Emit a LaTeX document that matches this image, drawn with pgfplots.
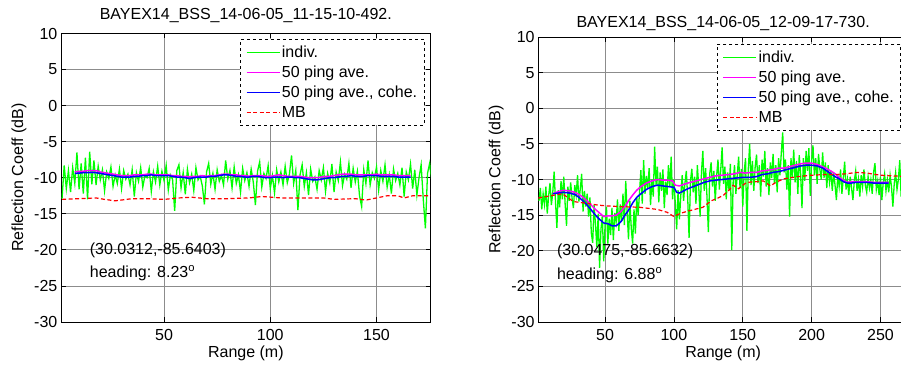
\documentclass[border=0pt]{standalone}
\usepackage{fontspec}
\setmainfont{Liberation Sans}
\usepackage{pgfplots}
\pgfplotsset{compat=1.18}
\definecolor{mgreen}{rgb}{0,1,0}
\definecolor{mmag}{rgb}{1,0,1}
\definecolor{mblue}{rgb}{0,0,1}
\definecolor{mred}{rgb}{1,0,0}
\newcommand\fs{\fontsize{16}{19}\selectfont}
\pgfplotsset{
  mstyle/.style={
    scale only axis,
    anchor=south west,
    ymin=-30, ymax=10,
    ytick={-30,-25,...,10},
    tick align=inside,
    major tick length=5pt,
    grid=major,
    major grid style={black!45, line width=0.8pt},
    axis line style={black, line width=0.9pt},
    every tick/.style={black, line width=0.8pt},
    /pgf/number format/assume math mode=true,
    tick label style={font=\fs},
    xticklabel style={anchor=center, yshift=-13pt, inner sep=0pt},
    yticklabel style={anchor=east, xshift=-3.5pt, inner sep=0pt},
    xlabel={Range (m)},
    ylabel={Reflection Coeff (dB)},
    xlabel style={font=\fs, at={(axis description cs:0.5,0)}, anchor=center, yshift=-31pt},
    ylabel style={font=\fs, at={(axis description cs:-0.1136,0.5)}, anchor=center},
    legend cell align=left,
    legend image code/.code={\draw[##1] (0pt,0pt) -- (33pt,0pt);},
    legend style={font=\fs, draw=black, dashed, line width=0.8pt, fill=white,
      inner xsep=5.5pt, inner ysep=5pt, row sep=4pt,
      nodes={inner sep=1.5pt, solid}},
  },
  gline/.style={color=mgreen, line width=1.3pt, solid},
  mline/.style={color=mmag, line width=1.5pt, solid},
  bline/.style={color=mblue, line width=1.5pt, solid},
  rline/.style={color=mred, line width=1.2pt, dash pattern=on 4pt off 2.5pt},
}
\begin{document}
\begin{tikzpicture}
\useasboundingbox (0,0) rectangle (901pt,366pt);
%================ LEFT =================
\begin{axis}[mstyle,
  at={(61pt,44pt)}, width=369.7pt, height=288.5pt,
  xmin=1.5, xmax=175.5, xtick={50,100,150},
  title={BAYEX14\_BSS\_14-06-05\_11-15-10-492.},
  title style={font=\fs, at={(0.5,1)}, anchor=base, yshift=7.5pt},
  legend style={at={(0.4842,1)}, anchor=north west, yshift=-5.5pt},
]
\addplot[gline] table {
2 -12.9
3 -8.3
4 -11.5
5 -9.0
6 -12.0
7 -8.6
8 -10.8
9 -6.5
10 -11.6
11 -8.0
12 -12.2
13 -7.2
14 -13.0
15 -6.4
16 -10.9
17 -7.6
18 -11.0
19 -8.4
20 -10.3
21 -8.9
22 -11.8
23 -9.2
24 -10.1
25 -8.5
26 -11.2
27 -9.6
28 -10.8
29 -8.8
30 -11.5
31 -9.0
32 -10.2
33 -9.5
34 -11.0
35 -8.9
36 -12.6
37 -9.3
38 -10.5
39 -8.6
40 -11.3
41 -9.7
42 -10.0
43 -8.7
44 -11.9
45 -9.2
46 -10.6
47 -8.4
48 -11.0
49 -9.1
50 -10.4
51 -8.3
52 -11.7
53 -9.6
54 -10.2
55 -14.6
56 -9.0
57 -8.2
58 -11.4
59 -9.3
60 -12.3
61 -8.8
62 -10.7
63 -9.5
64 -11.8
65 -8.6
66 -10.3
67 -9.8
68 -11.1
69 -13.7
70 -9.2
71 -8.0
72 -10.9
73 -9.4
74 -11.6
75 -8.9
76 -10.5
77 -9.7
78 -11.0
79 -7.6
80 -10.2
81 -9.0
82 -11.4
83 -8.5
84 -10.8
85 -9.6
86 -12.0
87 -8.7
88 -10.4
89 -9.3
90 -11.2
91 -8.8
92 -10.6
93 -13.8
94 -9.1
95 -7.8
96 -11.3
97 -9.4
98 -10.1
99 -8.3
100 -11.5
101 -9.7
102 -12.1
103 -8.9
104 -10.6
105 -9.2
106 -11.0
107 -8.4
108 -10.7
109 -9.5
110 -6.9
111 -10.8
112 -9.0
113 -14.5
114 -9.6
115 -8.2
116 -11.2
117 -9.3
118 -12.4
119 -8.8
120 -10.5
121 -9.9
122 -11.6
123 -9.0
124 -10.3
125 -8.6
126 -11.9
127 -9.4
128 -10.7
129 -8.1
130 -12.0
131 -9.2
132 -10.4
133 -7.8
134 -11.1
135 -9.5
136 -10.2
137 -8.0
138 -11.4
139 -8.7
140 -10.6
141 -9.1
142 -12.5
143 -14.0
144 -8.9
145 -10.8
146 -7.6
147 -11.0
148 -9.3
149 -10.1
150 -8.5
151 -11.7
152 -9.0
153 -10.5
154 -8.2
155 -11.3
156 -9.6
157 -12.2
158 -8.8
159 -10.4
160 -9.4
161 -11.0
162 -8.6
163 -12.6
164 -9.2
165 -10.3
166 -8.1
167 -11.5
168 -8.9
169 -12.4
170 -10.0
171 -8.2
172 -13.0
173 -17.0
174 -9.4
175 -8.0
176 -10.6
};
\addlegendentry{indiv.}
\addplot[mline] table {
8 -9.2
10 -9.1
12 -9.1
14 -9.0
16 -9.0
18 -9.0
20 -9.2
22 -9.3
24 -9.4
26 -9.5
28 -9.6
30 -9.7
32 -9.7
34 -9.7
36 -9.6
38 -9.6
40 -9.6
42 -9.5
44 -9.5
46 -9.6
48 -9.6
50 -9.6
52 -9.6
54 -9.7
56 -9.7
58 -9.8
60 -9.8
62 -9.9
64 -9.8
66 -9.8
68 -9.7
70 -9.8
72 -9.7
74 -9.7
76 -9.6
78 -9.5
80 -9.5
82 -9.6
84 -9.6
86 -9.7
88 -9.7
90 -9.8
92 -9.7
94 -9.7
96 -9.7
98 -9.8
100 -9.8
102 -9.7
104 -9.6
106 -9.7
108 -9.8
110 -9.8
112 -9.8
114 -9.8
116 -9.9
118 -10.0
120 -10.0
122 -10.0
124 -9.9
126 -9.8
128 -9.8
130 -9.7
132 -9.6
134 -9.5
136 -9.5
138 -9.5
140 -9.6
142 -9.6
144 -9.6
146 -9.6
148 -9.6
150 -9.5
152 -9.6
154 -9.6
156 -9.6
158 -9.6
160 -9.7
162 -9.7
164 -9.7
166 -9.7
};
\addlegendentry{50 ping ave.}
\addplot[bline] table {
8 -9.4
10 -9.35
12 -9.3
14 -9.3
16 -9.25
18 -9.3
20 -9.4
22 -9.5
24 -9.6
26 -9.7
28 -9.8
30 -9.9
32 -9.9
34 -9.9
36 -9.8
38 -9.8
40 -9.7
42 -9.7
44 -9.6
46 -9.7
48 -9.7
50 -9.7
52 -9.7
54 -9.8
56 -9.9
58 -9.9
60 -10.0
62 -10.1
64 -10.0
66 -9.9
68 -9.9
70 -9.9
72 -9.8
74 -9.8
76 -9.7
78 -9.6
80 -9.6
82 -9.7
84 -9.8
86 -9.8
88 -9.9
90 -9.9
92 -9.8
94 -9.8
96 -9.9
98 -10.0
100 -10.0
102 -9.9
104 -9.9
106 -10.0
108 -9.9
110 -9.9
112 -10.0
114 -10.0
116 -10.1
118 -10.2
120 -10.3
122 -10.3
124 -10.2
126 -10.1
128 -10.0
130 -10.0
132 -9.9
134 -9.8
136 -9.8
138 -9.7
140 -9.8
142 -9.8
144 -9.8
146 -9.7
148 -9.7
150 -9.7
152 -9.8
154 -9.8
156 -9.8
158 -9.8
160 -9.9
162 -9.9
164 -9.9
166 -9.9
};
\addlegendentry{50 ping ave., cohe.}
\addplot[rline] table {
2 -13.0
10 -12.9
18 -12.8
22 -13.0
27 -13.2
35 -12.9
42 -12.9
50 -13.0
57 -12.8
63 -12.7
70 -12.9
80 -12.9
90 -12.8
96 -12.6
105 -12.8
115 -12.8
125 -12.8
130 -13.0
140 -12.9
145 -13.1
150 -12.8
155 -12.5
160 -12.5
163 -12.8
167 -12.5
176 -12.5
};
\addlegendentry{MB}
\node[anchor=west, font=\fs, inner sep=0pt] at (axis cs:15,-20) {(30.0312,-85.6403)};
\node[anchor=west, font=\fs, inner sep=0pt] at (axis cs:15,-23.2) {heading: 8.23\textsuperscript{o}};
\end{axis}
%================ RIGHT =================
\begin{axis}[mstyle,
  at={(538.3pt,44pt)}, width=369.7pt, height=285pt,
  xmin=1.5, xmax=270, xtick={50,100,150,200,250},
  title={BAYEX14\_BSS\_14-06-05\_12-09-17-730.},
  title style={font=\fs, at={(0.5,1)}, anchor=base, yshift=3pt},
  legend style={at={(0.4826,1)}, anchor=north west, yshift=-7pt},
]
\addlegendimage{gline}
\addlegendentry{indiv.}
\addlegendimage{mline}
\addlegendentry{50 ping ave.}
\addlegendimage{bline}
\addlegendentry{50 ping ave., cohe.}
\addlegendimage{rline}
\addlegendentry{MB}
\addplot[gline, forget plot] table {
2 -13.0
3 -11.2
4 -14.2
5 -12.0
6 -13.5
7 -11.0
8 -14.8
9 -12.3
10 -10.5
11 -13.6
12 -11.8
13 -8.9
14 -13.2
15 -16.8
16 -11.5
17 -13.9
18 -10.2
19 -12.8
20 -9.6
21 -13.5
22 -16.5
23 -11.0
24 -13.0
25 -10.4
26 -12.6
27 -14.0
28 -10.8
29 -12.2
30 -9.4
31 -13.1
32 -11.3
33 -9.2
34 -14.5
35 -11.6
36 -13.8
37 -12.0
38 -15.2
39 -12.5
40 -17.5
41 -18.9
42 -13.6
43 -16.2
44 -19.5
45 -14.8
46 -22.4
47 -17.0
48 -15.0
49 -21.5
50 -16.3
51 -13.8
52 -19.0
53 -15.5
54 -17.8
55 -14.0
56 -18.5
57 -14.7
58 -16.0
59 -12.8
60 -17.2
61 -13.5
62 -15.8
63 -12.0
64 -16.4
65 -10.2
66 -14.5
67 -18.4
68 -13.0
69 -16.8
70 -19.0
71 -14.2
72 -17.6
73 -12.5
74 -15.0
75 -11.8
76 -8.7
77 -13.4
78 -7.3
79 -12.0
80 -9.5
81 -11.2
82 -8.4
83 -13.6
84 -10.0
85 -12.4
86 -5.4
87 -10.8
88 -8.2
89 -13.2
90 -9.0
91 -11.6
92 -8.6
93 -14.0
94 -10.3
95 -12.2
96 -8.0
97 -11.0
98 -6.8
99 -12.8
100 -10.0
101 -13.4
102 -17.0
103 -11.5
104 -15.6
105 -12.2
106 -9.4
107 -13.0
108 -10.5
109 -8.8
110 -12.6
111 -18.2
112 -10.2
113 -8.5
114 -11.8
115 -9.6
116 -13.4
117 -8.0
118 -11.0
119 -15.2
120 -9.0
121 -6.0
122 -11.6
123 -8.4
124 -12.4
125 -17.4
126 -9.2
127 -7.6
128 -11.0
129 -8.8
130 -13.0
131 -9.5
132 -7.2
133 -11.4
134 -8.6
135 -5.5
136 -10.6
137 -8.2
138 -12.8
139 -9.0
140 -11.5
141 -7.8
142 -19.9
143 -10.4
144 -8.0
145 -12.0
146 -9.3
147 -6.8
148 -11.2
149 -8.5
150 -13.8
151 -9.0
152 -7.0
153 -17.2
154 -8.6
155 -5.0
156 -10.8
157 -7.4
158 -11.6
159 -8.2
160 -6.5
161 -10.5
162 -8.0
163 -12.4
164 -7.2
165 -9.6
166 -6.0
167 -11.0
168 -8.4
169 -12.2
170 -7.6
171 -9.8
172 -6.4
173 -10.6
174 -8.0
175 -11.8
176 -7.0
177 -9.4
178 -6.2
179 -3.4
180 -9.0
181 -7.2
182 -11.4
183 -8.0
184 -15.2
185 -7.0
186 -9.8
187 -5.8
188 -10.4
189 -7.4
190 -12.0
191 -6.6
192 -9.2
193 -14.0
194 -7.0
195 -10.2
196 -6.0
197 -8.8
198 -5.6
199 -12.3
200 -7.4
201 -5.2
202 -9.4
203 -7.0
204 -10.6
205 -6.4
206 -8.6
207 -10.0
208 -6.2
209 -9.8
210 -7.6
211 -11.2
212 -8.0
213 -10.4
214 -8.8
215 -11.6
216 -9.0
217 -10.8
218 -12.9
219 -9.4
220 -11.0
221 -8.6
222 -12.0
223 -9.8
224 -7.5
225 -11.4
226 -10.0
227 -12.2
228 -9.6
229 -11.2
230 -12.9
231 -10.2
232 -8.8
233 -11.6
234 -10.0
235 -12.4
236 -9.4
237 -11.0
238 -8.6
239 -10.8
240 -11.8
241 -9.6
242 -11.2
243 -10.0
244 -12.0
245 -9.0
246 -7.7
247 -11.4
248 -10.2
249 -12.2
250 -9.6
251 -12.9
252 -10.4
253 -9.2
254 -11.6
255 -10.0
256 -11.8
257 -9.4
258 -11.0
259 -13.8
260 -10.6
261 -9.0
262 -11.4
263 -10.0
264 -7.3
265 -12.4
266 -10.6
267 -14.0
268 -9.4
269 -8.8
270 -11.0
};
\addplot[mline, forget plot] table {
12 -12.0
16 -11.7
20 -11.5
24 -11.6
28 -11.8
31 -12.1
34 -12.5
37 -13.0
40 -13.6
43 -14.2
46 -14.7
49 -15.2
52 -15.1
55 -15.1
58 -15.0
61 -14.6
64 -13.9
67 -13.0
70 -12.2
73 -11.5
76 -11.0
80 -10.5
84 -10.2
88 -10.0
92 -10.1
96 -10.1
99 -10.2
101 -10.8
104 -10.9
107 -10.7
110 -10.5
114 -10.3
118 -10.1
122 -9.9
126 -9.7
130 -9.5
135 -9.4
140 -9.3
144 -9.2
148 -9.0
152 -9.1
156 -9.0
160 -9.0
164 -8.8
168 -8.7
172 -8.6
176 -8.4
180 -8.4
184 -8.2
188 -8.0
192 -7.8
196 -7.7
200 -7.7
204 -7.9
208 -8.2
211 -8.5
214 -8.8
217 -9.2
220 -9.7
223 -10.1
226 -10.4
229 -10.3
232 -10.3
236 -10.3
240 -10.3
245 -10.4
250 -10.4
256 -10.4
};
\addplot[bline, forget plot] table {
12 -12.0
16 -11.9
20 -11.8
24 -11.9
28 -12.1
31 -12.5
34 -13.0
37 -13.6
40 -14.3
43 -15.0
46 -15.6
49 -16.1
52 -16.2
55 -16.5
58 -16.5
60 -16.2
62 -15.8
64 -15.1
66 -14.6
68 -14.0
70 -13.3
73 -12.5
76 -12.0
80 -11.4
84 -11.0
88 -10.8
92 -10.9
96 -11.0
100 -11.1
102 -11.8
104 -11.9
107 -11.6
110 -11.3
114 -11.0
118 -10.7
122 -10.4
126 -10.2
130 -10.1
135 -10.0
140 -9.9
145 -9.8
150 -9.7
155 -9.7
160 -9.6
164 -9.3
168 -9.2
172 -9.0
176 -8.9
180 -8.7
184 -8.5
188 -8.3
192 -8.1
196 -8.0
200 -8.0
204 -8.1
208 -8.4
211 -8.8
214 -9.2
217 -9.6
220 -9.9
223 -10.3
226 -10.5
229 -10.5
232 -10.4
236 -10.4
240 -10.4
245 -10.5
250 -10.5
256 -10.5
};
\addplot[rline, forget plot] table {
1.5 -12.6
10 -12.3
19 -12.0
27 -13.1
35 -13.3
45 -13.6
51 -13.7
60 -13.8
75 -13.9
88 -14.2
95 -14.6
100 -15.2
104 -14.8
109 -14.5
115 -14.2
121 -13.9
127 -13.0
132 -12.6
136 -12.2
140 -11.5
143 -10.8
147 -11.3
150 -10.8
153 -10.4
160 -10.3
165 -10.2
170 -10.9
175 -10.3
180 -9.9
190 -9.6
200 -9.4
210 -9.3
218 -9.3
225 -9.2
233 -9.0
240 -9.1
250 -9.4
260 -9.5
270 -9.6
};
\node[anchor=west, font=\fs, inner sep=0pt] at (axis cs:15,-20.1) {(30.0475,-85.6632)};
\node[anchor=west, font=\fs, inner sep=0pt] at (axis cs:15,-23.4) {heading: 6.88\textsuperscript{o}};
\end{axis}
\end{tikzpicture}
\end{document}
